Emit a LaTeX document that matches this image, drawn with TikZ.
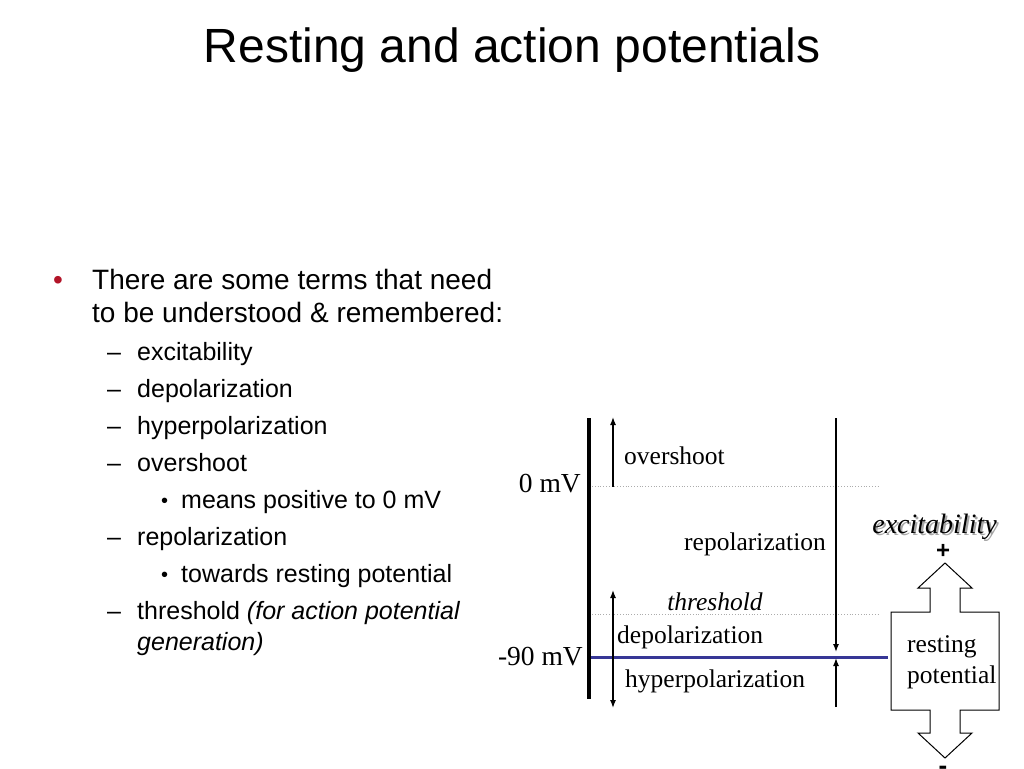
\documentclass[tikz,border=0pt]{standalone}
\usepackage{fontspec}
\setmainfont{Liberation Sans}
\newfontfamily\seriffam{Liberation Serif}
\usetikzlibrary{arrows.meta}
\definecolor{bulletred}{RGB}{178,20,40}
\definecolor{restblue}{RGB}{55,55,150}
\tikzset{
  titletext/.style={font=\fontsize{48}{56}\selectfont, anchor=base, inner sep=0pt},
  maintext/.style={font=\fontsize{28}{33}\selectfont, anchor=base west, inner sep=0pt},
  subtext/.style={font=\fontsize{25}{30}\selectfont, anchor=base west, inner sep=0pt},
  subbullet/.style={font=\fontsize{20}{24}\selectfont, anchor=base west, inner sep=0pt},
  lbl/.style={font=\seriffam\fontsize{25.5}{29}\selectfont, inner sep=0pt},
  mvlbl/.style={font=\seriffam\fontsize{27.5}{31}\selectfont, inner sep=0pt, anchor=base east},
  thinarrow/.style={line width=1.3pt, -{Latex[length=8pt,width=6pt]}},
  thinboth/.style={line width=1.3pt, {Latex[length=8pt,width=6pt]}-{Latex[length=8pt,width=6pt]}},
  dotline/.style={line width=0.8pt, gray!65, dotted},
}
\begin{document}
\begin{tikzpicture}[x=1pt,y=-1pt]
\useasboundingbox (0,0) rectangle (1024,768);
% title
\node[titletext] (title) at (512,63) {Resting and action potentials};
% left text
\node[maintext, text=bulletred] (b0) at (53,289) {\textbullet};
\node[maintext] (t1) at (92,289) {There are some terms that need};
\node[maintext] (t2) at (92,322) {to be understood \& remembered:};
\node[subtext] (d1) at (107,360) {–};
\node[subtext] (s1) at (137,360) {excitability};
\node[subtext] (d2) at (107,397) {–};
\node[subtext] (s2) at (137,397) {depolarization};
\node[subtext] (d3) at (107,434) {–};
\node[subtext] (s3) at (137,434) {hyperpolarization};
\node[subtext] (d4) at (107,471) {–};
\node[subtext] (s4) at (137,471) {overshoot};
\node[subbullet] (bb1) at (161,507) {\textbullet};
\node[subtext] (s5) at (181,508) {means positive to 0 mV};
\node[subtext] (d5) at (107,545) {–};
\node[subtext] (s6) at (137,545) {repolarization};
\node[subbullet] (bb2) at (161,581) {\textbullet};
\node[subtext] (s7) at (181,582) {towards resting potential};
\node[subtext] (d6) at (107,619) {–};
\node[subtext] (s8) at (137,619) {threshold \textit{(for action potential}};
\node[subtext] (s9) at (137,650) {\textit{generation)}};
% diagram coordinates
\coordinate (axTop) at (589,418);
\coordinate (axBot) at (589,699);
\coordinate (zeroL) at (592,486.5);
\coordinate (zeroR) at (880,486.5);
\coordinate (thrL) at (592,614);
\coordinate (thrR) at (880,614);
\coordinate (restL) at (588,657);
\coordinate (restR) at (888,657);
\coordinate (ovBot) at (613,486.5);
\coordinate (ovTop) at (613,417);
\coordinate (dpTop) at (613,590);
\coordinate (dpBot) at (613,708);
\coordinate (rpTop) at (836,418);
\coordinate (rpEnd) at (836,652);
\coordinate (hpBot) at (836,707);
\coordinate (hpEnd) at (836,658);
% lines
\draw[dotline] (zeroL) -- (zeroR);
\draw[dotline] (thrL) -- (thrR);
\draw[line width=3pt, restblue] (restL) -- (restR);
\draw[line width=4pt] (axTop) -- (axBot);
\draw[thinarrow] (ovBot) -- (ovTop);
\draw[thinboth] (dpTop) -- (dpBot);
\draw[thinarrow] (rpTop) -- (rpEnd);
\draw[thinarrow] (hpBot) -- (hpEnd);
% labels
\node[mvlbl] (zero) at (581,492) {0 mV};
\node[mvlbl] (ninety) at (583,665) {-90 mV};
\node[lbl, anchor=base west] (ov) at (624,464) {overshoot};
\node[lbl, anchor=base east] (rp) at (826,550) {repolarization};
\node[lbl, anchor=base] (th) at (715,610) {\itshape threshold};
\node[lbl, anchor=base west] (dp) at (617,643) {depolarization};
\node[lbl, anchor=base west] (hp) at (625,687) {hyperpolarization};
% resting potential double arrow box
\draw[line width=1pt, fill=white]
  (945,563) -- (972,588) -- (960,588) -- (960,612) -- (999,612) -- (999,710)
  -- (960,710) -- (960,733) -- (972,733) -- (945,758) -- (918,733) -- (930,733)
  -- (930,710) -- (891,710) -- (891,612) -- (930,612) -- (930,588) -- (918,588) -- cycle;
\node[lbl, anchor=base west] (rs1) at (907,652) {resting};
\node[lbl, anchor=base west] (rs2) at (907,683) {potential};
\node[lbl, anchor=base, text=gray!70, font=\seriffam\itshape\fontsize{28}{32}\selectfont] (exs) at (936.5,535.5) {excitability};
\node[lbl, anchor=base, font=\seriffam\itshape\fontsize{28}{32}\selectfont] (ex) at (934.5,533.5) {excitability};
\node[anchor=base, inner sep=0pt, font=\bfseries\fontsize{24}{28}\selectfont] (plus) at (943,558) {+};
\node[anchor=base, inner sep=0pt, font=\bfseries\fontsize{26}{28}\selectfont] (minus) at (943,774) {-};
\end{tikzpicture}
\end{document}
